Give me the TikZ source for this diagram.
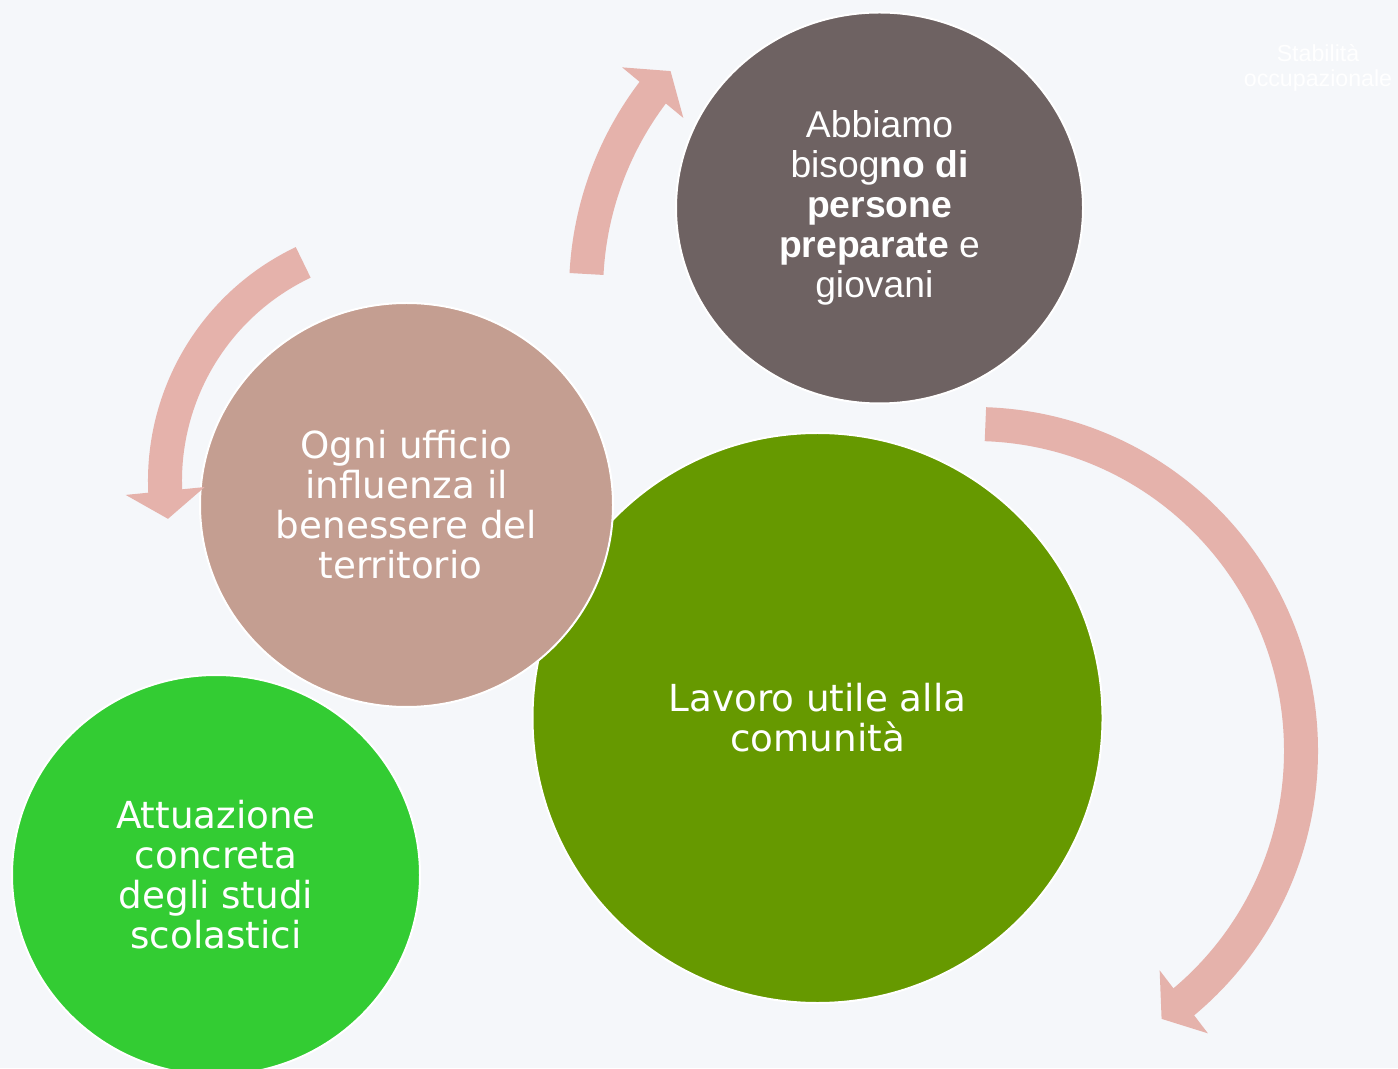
\documentclass[tikz,border=0pt]{standalone}
\usepackage{fontspec}
\setmainfont{DejaVu Sans}
\newfontfamily\arialfont{Liberation Sans}
\usetikzlibrary{shapes.geometric,arrows.meta,bending}

\definecolor{bgcol}{RGB}{245,247,250}
\definecolor{arrowcol}{RGB}{229,178,171}
\definecolor{taupe}{RGB}{196,158,145}
\definecolor{darkgrey}{RGB}{110,98,98}
\definecolor{ogreen}{RGB}{102,153,0}
\definecolor{lgreen}{RGB}{51,204,51}

\tikzset{
  bubble/.style={ellipse, draw=white, line width=0.2mm, text=white, align=center,
    inner sep=0pt, font=\fontsize{10.6}{11.4}\selectfont},
  bigarrow/.style={arrowcol, line width=3.4mm, -{Triangle[width=7.8mm,length=2.8mm]}}
}

\begin{document}
\begin{tikzpicture}
      \fill[bgcol] (0,0) rectangle (13.98,10.68);
      \useasboundingbox (0,0) rectangle (13.98,10.68);

      \node[bubble, fill=ogreen, minimum width=5.7cm, minimum height=5.7cm] (lavoro) at (8.175,3.50) {Lavoro utile alla\\comunità};
      \node[bubble, fill=taupe, minimum width=4.13cm, minimum height=4.04cm] (ufficio) at (4.065,5.63) {Ogni ufficio\\influenza il\\benessere del\\territorio\kern0.32em};
      \node[bubble, fill=darkgrey, minimum width=4.07cm, minimum height=3.91cm,
        font=\arialfont\fontsize{10.6}{11.4}\selectfont] (persone) at (8.795,8.60)
        {Abbiamo\\bisog\textbf{no di}\\\textbf{persone}\\\textbf{preparate} e\\giovani\kern0.28em};
      \node[bubble, fill=lgreen, minimum width=4.08cm, minimum height=4.0cm] (studi) at (2.16,1.93) {Attuazione\\concreta\\degli studi\\scolastici};

      \node[text=white, align=center, font=\arialfont\fontsize{6.6}{7.1}\selectfont] (stabilita) at (13.18,10.00) {Stabilità\\occupazionale};

      \coordinate (a1) at (5.865,7.94);
      \coordinate (a2) at (3.032,8.056);
      \coordinate (a3) at (9.854,6.438);

      \draw[bigarrow] (a1) arc[start angle=177, end angle=138, radius=3.29];
      \draw[bigarrow] (a2) arc[start angle=115.4, end angle=189, radius=2.42];
      \draw[bigarrow] (a3) arc[start angle=88, end angle=-55, radius=3.27];
\end{tikzpicture}
\end{document}
